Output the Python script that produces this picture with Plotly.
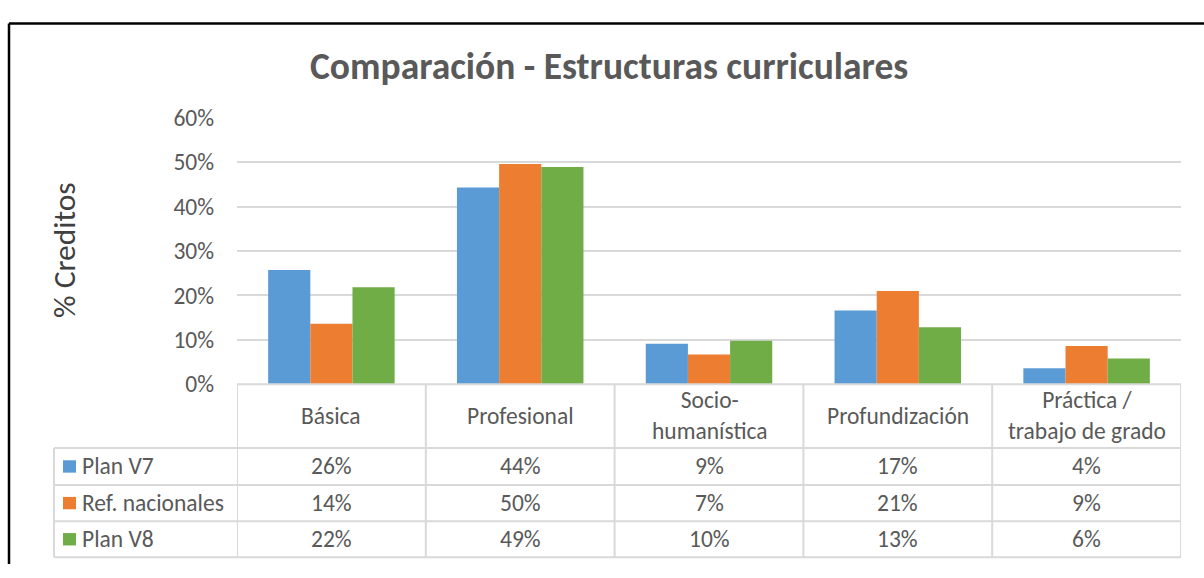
import plotly.graph_objects as go

categories = ["Básica", "Profesional", "Socio-<br>humanística", "Profundización", "Práctica /<br>trabajo de grado"]
series_names = ["Plan V7", "Ref. nacionales", "Plan V8"]
plan_v7 = [0.257, 0.443, 0.091, 0.166, 0.036]
ref_nac = [0.136, 0.496, 0.067, 0.210, 0.086]
plan_v8 = [0.218, 0.489, 0.098, 0.128, 0.058]
colors = ["#5B9BD5", "#ED7D31", "#70AD47"]
y_ticks = [0, 0.1, 0.2, 0.3, 0.4, 0.5, 0.6]

W, H = 1204, 578
FONT = "Carlito, Lato, sans-serif"
GRAY = "#595959"
GRID = "#D9D9D9"
TXT = 23.5

def px(x):
    return x / W

def py(y):
    return 1 - y / H

x_left, x_right = 237, 1181
y_zero, y_top = 389, 109
row_lines = [456, 495, 533, 571]
table_left = 54

fig = go.Figure()
all_series = [plan_v7, ref_nac, plan_v8]
idx = list(range(len(categories)))
for name, vals, col in zip(series_names, all_series, colors):
    fig.add_trace(go.Bar(x=idx, y=vals, name=name, marker=dict(color=col, line=dict(width=0)),
                         showlegend=False))

fig.update_layout(
    width=W, height=H, autosize=False,
    margin=dict(l=0, r=0, t=0, b=0),
    paper_bgcolor="white", plot_bgcolor="white",
    barmode="group", bargap=0.33, bargroupgap=0,
    font=dict(family=FONT, color=GRAY, size=TXT),
    xaxis=dict(domain=[px(x_left), px(x_right)], range=[-0.5, len(categories) - 0.5],
               showticklabels=False, showgrid=False, zeroline=False, showline=False, fixedrange=True),
    yaxis=dict(domain=[py(y_zero), py(y_top)], range=[0, 0.6], tickvals=y_ticks,
               tickformat=".0%", showgrid=True, gridcolor=GRID, gridwidth=2,
               zeroline=False, showline=False, ticks="", ticklabelstandoff=22,
               tickfont=dict(family=FONT, size=TXT, color=GRAY), fixedrange=True),
)

shapes = []
# outer chart border (top & left)
shapes.append(dict(type="line", xref="paper", yref="paper", x0=px(9), x1=1.0, y0=py(10), y1=py(10),
                   line=dict(color="black", width=2.5)))
shapes.append(dict(type="line", xref="paper", yref="paper", x0=px(9), x1=px(9), y0=py(10), y1=0,
                   line=dict(color="black", width=2.5)))
# axis line / table top
shapes.append(dict(type="line", xref="paper", yref="paper", x0=px(x_left), x1=px(x_right),
                   y0=py(y_zero), y1=py(y_zero), line=dict(color=GRID, width=2)))
# table horizontal lines
for yl in row_lines:
    shapes.append(dict(type="line", xref="paper", yref="paper", x0=px(table_left), x1=px(x_right),
                       y0=py(yl), y1=py(yl), line=dict(color=GRID, width=2)))
# vertical lines at category boundaries
for i in range(len(categories) + 1):
    shapes.append(dict(type="line", xref="x", yref="paper", x0=i - 0.5, x1=i - 0.5,
                       y0=py(y_zero), y1=py(row_lines[-1]), line=dict(color=GRID, width=2)))
# table left border
shapes.append(dict(type="line", xref="paper", yref="paper", x0=px(table_left), x1=px(table_left),
                   y0=py(row_lines[0]), y1=py(row_lines[-1]), line=dict(color=GRID, width=2)))

ann = []
ann.append(dict(text="<b>Comparación - Estructuras curriculares</b>", xref="paper", yref="paper",
                x=px(609), y=py(55), showarrow=False, font=dict(size=37.5, color=GRAY, family=FONT),
                xanchor="center", yanchor="middle"))
ann.append(dict(text="% Creditos", xref="paper", yref="paper", x=px(64), y=py(248), textangle=-90,
                showarrow=False, font=dict(size=31.5, color="#404040", family=FONT),
                xanchor="center", yanchor="middle"))
# category header
for i, c in enumerate(categories):
    ann.append(dict(text=c, xref="x", yref="paper", x=i, y=py(422), showarrow=False,
                    font=dict(size=TXT, color=GRAY, family=FONT), xanchor="center", yanchor="middle"))
# data rows
for r, (name, vals, col) in enumerate(zip(series_names, all_series, colors)):
    yc = (row_lines[r] + row_lines[r + 1]) / 2
    shapes.append(dict(type="rect", xref="paper", yref="paper", x0=px(63), x1=px(76),
                       y0=py(yc - 6.5), y1=py(yc + 6.5), fillcolor=col, line=dict(width=0)))
    ann.append(dict(text=name, xref="paper", yref="paper", x=px(80), y=py(yc), showarrow=False,
                    font=dict(size=TXT, color=GRAY, family=FONT), xanchor="left", yanchor="middle"))
    for i, v in enumerate(vals):
        ann.append(dict(text=f"{round(v * 100):d}%", xref="x", yref="paper", x=i, y=py(yc),
                        showarrow=False, font=dict(size=TXT, color=GRAY, family=FONT),
                        xanchor="center", yanchor="middle"))

fig.update_layout(shapes=shapes, annotations=ann)
fig.write_html("out.html", config={"displayModeBar": False},
               post_script="document.body.style.margin='0';document.body.style.overflow='hidden';"
                           "document.documentElement.style.overflow='hidden';")
